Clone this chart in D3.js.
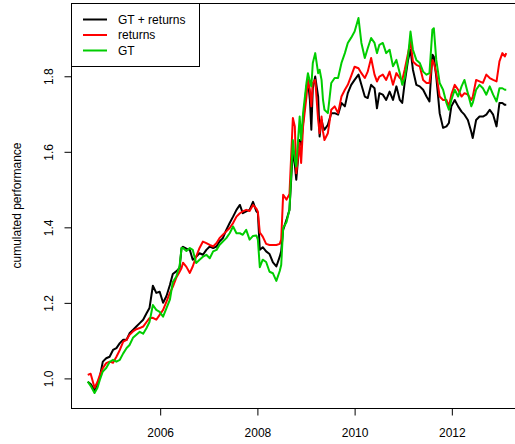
<!DOCTYPE html>
<html>
<head>
<meta charset="utf-8">
<script src="https://cdn.jsdelivr.net/npm/d3@7"></script>
<style>
  html, body { margin: 0; padding: 0; background: #fff; }
  svg { display: block; }
  text { font-family: Arial, "Liberation Sans", Helvetica, sans-serif; font-size: 12px; fill: #000; }
</style>
</head>
<body>
<svg id="chart" width="515" height="444"></svg>
<script>
// ---- data (decimal years and cumulated performance) ----
const years = [2004.52,2004.58,2004.66,2004.72,2004.77,2004.83,2004.90,2004.97,2005.04,2005.11,2005.18,2005.25,2005.32,2005.38,2005.45,2005.52,2005.59,2005.66,2005.73,2005.79,2005.86,2005.93,2006.00,2006.07,2006.14,2006.21,2006.27,2006.34,2006.41,2006.45,2006.48,2006.55,2006.62,2006.68,2006.75,2006.82,2006.89,2006.96,2007.03,2007.10,2007.17,2007.23,2007.30,2007.37,2007.44,2007.51,2007.58,2007.65,2007.71,2007.78,2007.85,2007.92,2007.99,2008.02,2008.06,2008.12,2008.19,2008.26,2008.33,2008.40,2008.47,2008.50,2008.54,2008.61,2008.67,2008.74,2008.78,2008.81,2008.88,2008.91,2008.95,2009.02,2009.05,2009.09,2009.12,2009.15,2009.20,2009.26,2009.29,2009.33,2009.36,2009.39,2009.46,2009.53,2009.60,2009.67,2009.74,2009.81,2009.87,2009.94,2010.01,2010.09,2010.15,2010.22,2010.28,2010.35,2010.42,2010.47,2010.52,2010.59,2010.66,2010.73,2010.80,2010.87,2010.94,2010.99,2011.04,2011.11,2011.16,2011.21,2011.28,2011.35,2011.42,2011.49,2011.55,2011.61,2011.64,2011.69,2011.76,2011.83,2011.90,2011.95,2012.00,2012.07,2012.14,2012.21,2012.27,2012.34,2012.41,2012.44,2012.51,2012.58,2012.65,2012.72,2012.79,2012.86,2012.93,2012.99,2013.05,2013.10,2013.13];

const gtReturns = [0.990,0.984,0.968,0.984,1.003,1.043,1.052,1.056,1.074,1.079,1.092,1.101,1.101,1.118,1.127,1.136,1.145,1.154,1.171,1.185,1.244,1.225,1.228,1.199,1.217,1.246,1.275,1.282,1.291,1.344,1.347,1.342,1.339,1.313,1.321,1.330,1.326,1.339,1.348,1.344,1.348,1.361,1.370,1.392,1.410,1.427,1.445,1.458,1.436,1.441,1.445,1.466,1.441,1.437,1.339,1.346,1.335,1.328,1.306,1.295,1.321,1.335,1.392,1.419,1.445,1.604,1.564,1.525,1.630,1.617,1.675,1.772,1.789,1.736,1.657,1.767,1.798,1.745,1.639,1.683,1.666,1.657,1.670,1.701,1.701,1.697,1.728,1.719,1.754,1.776,1.789,1.803,1.776,1.745,1.741,1.776,1.767,1.714,1.754,1.750,1.736,1.758,1.736,1.772,1.736,1.728,1.781,1.842,1.869,1.816,1.776,1.772,1.763,1.745,1.732,1.856,1.850,1.798,1.701,1.662,1.666,1.675,1.719,1.736,1.719,1.705,1.697,1.683,1.652,1.635,1.683,1.692,1.692,1.697,1.710,1.697,1.666,1.728,1.728,1.723,1.723];

const returnsOnly = [1.008,1.011,0.974,0.989,1.008,1.026,1.039,1.043,1.040,1.056,1.074,1.096,1.101,1.114,1.123,1.129,1.132,1.136,1.148,1.158,1.159,1.154,1.167,1.180,1.202,1.225,1.241,1.265,1.281,1.291,1.305,1.294,1.278,1.295,1.321,1.344,1.361,1.357,1.352,1.348,1.357,1.370,1.379,1.388,1.397,1.410,1.427,1.436,1.441,1.445,1.442,1.458,1.448,1.440,1.385,1.374,1.355,1.352,1.352,1.352,1.355,1.366,1.485,1.472,1.487,1.688,1.666,1.542,1.622,1.569,1.666,1.745,1.789,1.763,1.719,1.781,1.789,1.683,1.648,1.692,1.652,1.630,1.648,1.710,1.719,1.701,1.745,1.763,1.776,1.800,1.824,1.820,1.807,1.794,1.811,1.847,1.803,1.785,1.798,1.803,1.789,1.811,1.776,1.807,1.794,1.789,1.816,1.860,1.891,1.838,1.829,1.825,1.789,1.781,1.781,1.842,1.834,1.807,1.745,1.736,1.736,1.719,1.750,1.776,1.763,1.745,1.754,1.750,1.736,1.744,1.789,1.785,1.781,1.803,1.794,1.789,1.785,1.838,1.860,1.851,1.860];

const gtOnly = [0.990,0.979,0.960,0.974,0.995,1.017,1.026,1.042,1.048,1.043,1.048,1.065,1.079,1.087,1.106,1.114,1.122,1.117,1.132,1.148,1.193,1.180,1.175,1.162,1.185,1.207,1.254,1.268,1.297,1.344,1.344,1.336,1.344,1.339,1.304,1.313,1.321,1.326,1.317,1.335,1.339,1.352,1.361,1.370,1.383,1.401,1.383,1.383,1.379,1.392,1.366,1.376,1.377,1.366,1.293,1.313,1.307,1.281,1.277,1.257,1.283,1.299,1.397,1.413,1.445,1.630,1.577,1.560,1.692,1.630,1.701,1.781,1.807,1.785,1.772,1.834,1.860,1.807,1.816,1.789,1.736,1.710,1.701,1.781,1.794,1.794,1.834,1.860,1.887,1.901,1.917,1.953,1.887,1.847,1.873,1.900,1.887,1.860,1.882,1.887,1.860,1.869,1.825,1.842,1.807,1.776,1.794,1.851,1.917,1.869,1.842,1.834,1.811,1.803,1.807,1.922,1.926,1.842,1.781,1.763,1.728,1.710,1.736,1.763,1.745,1.772,1.789,1.754,1.719,1.728,1.763,1.776,1.767,1.750,1.772,1.750,1.732,1.767,1.767,1.763,1.763];

const seriesNames = ["GT + returns", "returns", "GT"];
const seriesColors = ["#000000", "#FF0000", "#00CD00"];
const xTickValues = [2006, 2008, 2010, 2012];
const yTickValues = [1.0, 1.2, 1.4, 1.6, 1.8];
const yLabel = "cumulated performance";

// ---- layout ----
const svg = d3.select("#chart");
const plot = { left: 71, top: 3, right: 523, bottom: 408 };

const allSeries = [gtReturns, returnsOnly, gtOnly];
const xExt = d3.extent(years);
const xPad = (xExt[1] - xExt[0]) * 0.04;
const allVals = allSeries.flat();
const yExt = d3.extent(allVals);
const yPad = (yExt[1] - yExt[0]) * 0.04;

const x = d3.scaleLinear().domain([xExt[0] - xPad, xExt[1] + xPad]).range([plot.left, plot.right]);
const y = d3.scaleLinear().domain([yExt[0] - yPad, yExt[1] + yPad]).range([plot.bottom, plot.top]);

// series lines
const line = d3.line().x((d, i) => x(years[i])).y(d => y(d));
allSeries.forEach((s, k) => {
  svg.append("path")
    .datum(s)
    .attr("d", line)
    .attr("fill", "none")
    .attr("stroke", seriesColors[k])
    .attr("stroke-width", 2)
    .attr("stroke-linejoin", "round");
});

// box
svg.append("rect")
  .attr("x", plot.left + 0.5).attr("y", plot.top + 0.5)
  .attr("width", plot.right - plot.left).attr("height", plot.bottom - plot.top)
  .attr("fill", "none").attr("stroke", "#000").attr("stroke-width", 1);

// x axis
const xAxis = d3.axisBottom(x).tickValues(xTickValues).tickFormat(d3.format("d")).tickSize(7).tickPadding(13);
const gx = svg.append("g").attr("transform", `translate(0.5,${plot.bottom + 0.5})`).call(xAxis);
gx.select(".domain").remove();
gx.selectAll("text").attr("font-size", 12).attr("font-family", "Arial, 'Liberation Sans', sans-serif").attr("fill", "#000").attr("dy", "0.71em");
gx.selectAll("line").attr("stroke", "#000");

// y axis
const yAxis = d3.axisLeft(y).tickValues(yTickValues).tickFormat(d3.format(".1f")).tickSize(7);
const gy = svg.append("g").attr("transform", `translate(${plot.left + 0.5},0.5)`).call(yAxis);
gy.select(".domain").remove();
gy.selectAll("line").attr("stroke", "#000");
gy.selectAll("text")
  .attr("x", null).attr("dy", null)
  .attr("text-anchor", "middle")
  .attr("transform", "translate(-19,0) rotate(-90)")
  .attr("font-size", 12).attr("font-family", "Arial, 'Liberation Sans', sans-serif").attr("fill", "#000");

// y label
svg.append("text")
  .attr("transform", `translate(21,${(plot.top + plot.bottom) / 2}) rotate(-90)`)
  .attr("text-anchor", "middle")
  .text(yLabel);

// legend
const lg = svg.append("g");
lg.append("rect")
  .attr("x", plot.left + 0.5).attr("y", plot.top + 0.5)
  .attr("width", 128).attr("height", 63)
  .attr("fill", "#fff").attr("stroke", "#000").attr("stroke-width", 1);
seriesNames.forEach((name, i) => {
  const yy = 19.5 + i * 15.5;
  lg.append("line")
    .attr("x1", 83).attr("x2", 107).attr("y1", yy).attr("y2", yy)
    .attr("stroke", seriesColors[i]).attr("stroke-width", 2);
  lg.append("text")
    .attr("x", 118).attr("y", yy).attr("dy", "0.35em")
    .text(name);
});
</script>
</body>
</html>
